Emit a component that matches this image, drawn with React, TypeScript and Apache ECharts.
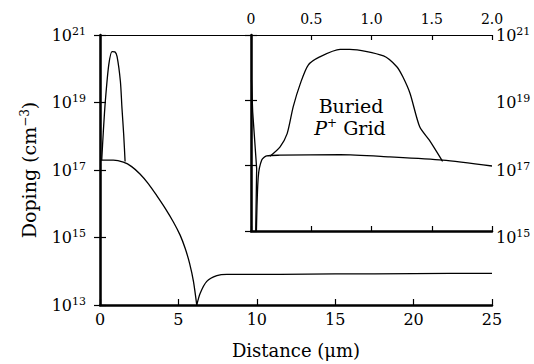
import React, { useEffect, useRef } from 'react';
import * as echarts from 'echarts';

// Main plot (distance in µm, doping as log10 of cm^-3)
const mainPeakX = [0.11, 0.21, 0.34, 0.56, 0.77, 0.95, 1.09, 1.3, 1.4, 1.51, 1.6];
const mainPeakLogN = [17.29, 18.12, 19.04, 20.12, 20.51, 20.5, 20.36, 19.63, 18.84, 18.06, 17.25];

const mainBackX = [0, 0.11, 0.85, 1.49, 2.02, 2.55, 3.09, 3.62, 4.15, 4.68, 5.11, 5.43, 5.71, 5.96, 6.17];
const mainBackLogN = [17.29, 17.29, 17.29, 17.23, 17.1, 16.88, 16.59, 16.24, 15.87, 15.46, 15.07, 14.68, 14.24, 13.7, 13.0];

const mainSubX = [6.17, 6.39, 6.81, 7.45, 8.09, 11.5, 15, 20, 25];
const mainSubLogN = [13.0, 13.35, 13.7, 13.87, 13.91, 13.91, 13.92, 13.93, 13.94];

// Inset (0–2 µm)
const insetPeakX = [0.157, 0.24, 0.3, 0.35, 0.41, 0.475, 0.57, 0.74, 0.82, 1.1, 1.21, 1.26, 1.32, 1.4, 1.48, 1.59];
const insetPeakLogN = [17.29, 17.57, 17.98, 18.8, 19.52, 20.08, 20.33, 20.56, 20.56, 20.36, 20.03, 19.72, 19.21, 18.19, 17.78, 17.13];

const insetBackX = [0.045, 0.06, 0.089, 0.13, 0.24, 0.74, 1.15, 1.59, 2.0];
const insetBackLogN = [15.0, 16.65, 17.17, 17.3, 17.32, 17.34, 17.27, 17.17, 16.99];

const insetSurfX = [0.004, 0.014, 0.047, 0.039];
const insetSurfLogN = [19.62, 18.65, 16.91, 15.0];

const mainXTicks = [0, 25, 5];
const mainYRange = [13, 21, 2];
const insetXRange = [0, 2, 0.5];
const insetYRange = [15, 21, 2];

const FONT = 'DejaVu Serif';

const pairs = (xs: number[], ys: number[]) => xs.map((x, i) => [x, ys[i]]);

const supLabel = (v: number) => `{b|10}{s|${Math.round(v)}}`;
const labelRich = {
  b: { fontSize: 16, fontFamily: FONT, color: '#000', lineHeight: 19 },
  s: { fontSize: 11, fontFamily: FONT, color: '#000', verticalAlign: 'top', lineHeight: 11 },
};

export default function App() {
  const ref = useRef<HTMLDivElement>(null);
  useEffect(() => {
    if (!ref.current) return;
    const chart = echarts.init(ref.current, null, { renderer: 'svg' });
    const black = '#000';
    const lineSeries = (data: number[][], xi: number, yi: number) => ({
      type: 'line',
      data,
      xAxisIndex: xi,
      yAxisIndex: yi,
      showSymbol: false,
      smooth: 0.25,
      lineStyle: { color: black, width: 1.3 },
      clip: true,
    });
    chart.setOption({
      animation: false,
      backgroundColor: '#fff',
      grid: [
        { left: 100, top: 35, width: 392, height: 272, show: false },
        { left: 251, top: 35, width: 241, height: 196, show: true, backgroundColor: '#fff', borderWidth: 0 },
      ],
      xAxis: [
        {
          type: 'value', gridIndex: 0, position: 'bottom',
          min: mainXTicks[0], max: mainXTicks[1], interval: mainXTicks[2],
          axisLine: { lineStyle: { color: black, width: 2.5 } },
          axisTick: { inside: true, length: 6, lineStyle: { color: black, width: 1.2 } },
          axisLabel: { color: black, fontFamily: FONT, fontSize: 16, margin: 6 },
          splitLine: { show: false },
          name: 'Distance (\u03bcm)', nameLocation: 'middle', nameGap: 36,
          nameTextStyle: { color: black, fontFamily: FONT, fontSize: 18 },
        },
        {
          type: 'value', gridIndex: 0, position: 'top',
          min: mainXTicks[0], max: mainXTicks[1],
          axisLine: { lineStyle: { color: black, width: 1.2 } },
          axisTick: { show: false }, axisLabel: { show: false }, splitLine: { show: false },
        },
        {
          type: 'value', gridIndex: 1, position: 'top',
          min: insetXRange[0], max: insetXRange[1], interval: insetXRange[2],
          axisLine: { lineStyle: { color: black, width: 1.2 } },
          axisTick: { inside: true, length: 5, lineStyle: { color: black, width: 1.2 } },
          axisLabel: {
            color: black, fontFamily: FONT, fontSize: 14, margin: 9,
            formatter: (v: number) => (v === 0 ? '0' : v.toFixed(1)),
          },
          splitLine: { show: false },
        },
        {
          type: 'value', gridIndex: 1, position: 'bottom',
          min: insetXRange[0], max: insetXRange[1], interval: insetXRange[2],
          axisLine: { lineStyle: { color: black, width: 2.5 } },
          axisTick: { inside: true, length: 5, lineStyle: { color: black, width: 1.2 } },
          axisLabel: { show: false }, splitLine: { show: false },
        },
      ],
      yAxis: [
        {
          type: 'value', gridIndex: 0, position: 'left',
          min: mainYRange[0], max: mainYRange[1], interval: mainYRange[2],
          axisLine: { show: true, lineStyle: { color: black, width: 2.5 } },
          axisTick: { show: true, inside: true, length: 6, lineStyle: { color: black, width: 1.2 } },
          axisLabel: { color: black, margin: 14, formatter: supLabel, rich: labelRich },
          splitLine: { show: false },
          name: 'Doping (cm{s|\u22123})', nameLocation: 'middle', nameGap: 62,
          nameTextStyle: {
            color: black, fontFamily: FONT, fontSize: 19,
            rich: {
              s: { fontSize: 12, fontFamily: FONT, color: black, verticalAlign: 'top', lineHeight: 10 },
            },
          },
        },
        {
          type: 'value', gridIndex: 0, position: 'right',
          min: mainYRange[0], max: mainYRange[1], interval: mainYRange[2],
          axisLine: { show: true, lineStyle: { color: black, width: 1.2 } },
          axisTick: { show: true, inside: true, length: 6, lineStyle: { color: black, width: 1.2 } },
          axisLabel: {
            color: black, margin: 4,
            formatter: (v: number) => (v <= mainYRange[0] ? '' : supLabel(v)),
            rich: labelRich,
          },
          splitLine: { show: false },
        },
        {
          type: 'value', gridIndex: 1, position: 'left',
          min: insetYRange[0], max: insetYRange[1], interval: insetYRange[2],
          axisLine: { show: true, lineStyle: { color: black, width: 2.5 } },
          axisTick: { show: true, inside: true, length: 6, lineStyle: { color: black, width: 1.2 } },
          axisLabel: { show: false }, splitLine: { show: false },
        },
        {
          type: 'value', gridIndex: 1, position: 'right',
          min: insetYRange[0], max: insetYRange[1], interval: insetYRange[2],
          axisLine: { show: true, lineStyle: { color: black, width: 1.2 } },
          axisTick: { show: true, inside: true, length: 6, lineStyle: { color: black, width: 1.2 } },
          axisLabel: { show: false }, splitLine: { show: false },
        },
      ],
      series: [
        lineSeries(pairs(mainPeakX, mainPeakLogN), 0, 0),
        lineSeries(pairs(mainBackX, mainBackLogN), 0, 0),
        lineSeries(pairs(mainSubX, mainSubLogN), 0, 0),
        lineSeries(pairs(insetPeakX, insetPeakLogN), 2, 2),
        lineSeries(pairs(insetBackX, insetBackLogN), 2, 2),
        { ...lineSeries(pairs(insetSurfX, insetSurfLogN), 2, 2), smooth: false },
      ],
      graphic: [
        {
          type: 'text', x: 351, y: 106, z: 10,
          style: {
            text: 'Buried', fontFamily: FONT, fontSize: 19, fill: black,
            textAlign: 'center', textVerticalAlign: 'middle',
          },
        },
        {
          type: 'text', x: 350, y: 128, z: 10,
          style: {
            text: '{i|P}{s|+} Grid', fill: black,
            textAlign: 'center', textVerticalAlign: 'middle',
            rich: {
              i: { fontFamily: FONT, fontSize: 19, fontStyle: 'italic', fill: black, lineHeight: 22 },
              s: { fontFamily: FONT, fontSize: 12, fill: black, verticalAlign: 'top', lineHeight: 12 },
            },
            fontFamily: FONT, fontSize: 19,
          },
        },
      ],
    });
    return () => chart.dispose();
  }, []);
  return (
    <div
      ref={ref}
      style={{ position: 'fixed', left: 0, top: 0, width: 534, height: 364 }}
    />
  );
}
